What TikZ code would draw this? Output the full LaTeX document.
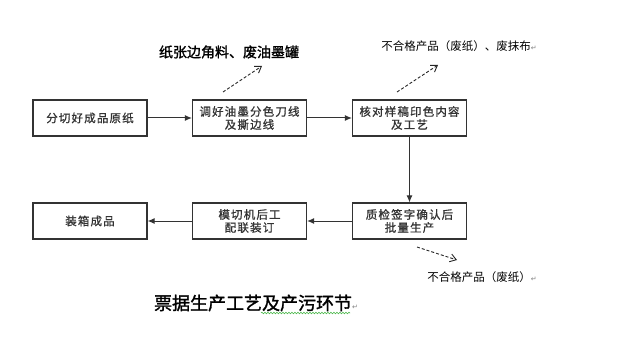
\documentclass[tikz,border=0pt]{standalone}
\usepackage{fontspec}
\newfontfamily\cjk{Noto Sans CJK SC}
\newfontfamily\cjkbox{Noto Sans CJK SC}[FakeBold=1,LetterSpace=10]
\newfontfamily\cjkb{Noto Sans CJK SC}[FakeBold=1.5]
\newfontfamily\symf{DejaVu Sans}
\usetikzlibrary{arrows.meta,decorations.pathmorphing}
\newcommand{\pmark}{{\color{gray}\symf\fontsize{7}{8}\selectfont ↵}}
\begin{document}
\begin{tikzpicture}[x=1pt,y=-1pt,
  procbox/.style={draw=black!80,line width=1.2pt,minimum width=114pt,minimum height=36pt,
    inner sep=1pt,align=center,font=\cjkbox\fontsize{11.5}{13}\selectfont,text=black!80},
  flow/.style={draw=black!80,line width=1pt,-{Latex[length=7pt,width=6pt]}},
  waste/.style={draw=black!85,line width=0.9pt,dash pattern=on 3pt off 2pt,-{Straight Barb[length=6pt,width=8pt]}},
  lbl/.style={inner sep=0pt,anchor=center}]
\useasboundingbox (0,0) rectangle (617,339);
\node[procbox] (b1) at (90,118) {分切好成品原纸};
\node[procbox] (b2) at (249.5,118) {调好油墨分色刀线\\及撕边线};
\node[procbox] (b3) at (409.5,118) {核对样稿印色内容\\及工艺};
\node[procbox] (b4) at (409.5,221) {质检签字确认后\\批量生产};
\node[procbox] (b5) at (249.5,221) {模切机后工\\配联装订};
\node[procbox] (b6) at (90,221) {装箱成品};
\draw[flow] (b1) -- (b2);
\draw[flow] (b2) -- (b3);
\draw[flow] (b3) -- (b4);
\draw[flow] (b4) -- (b5);
\draw[flow] (b5) -- (b6);
\coordinate (w1s) at (223,92); \coordinate (w1e) at (262,66);
\coordinate (w2s) at (397,92); \coordinate (w2e) at (438,65);
\coordinate (w3s) at (417,247); \coordinate (w3e) at (457,260);
\draw[waste] (w1s) -- (w1e);
\draw[waste] (w2s) -- (w2e);
\draw[waste] (w3s) -- (w3e);
\node[lbl] (t1) at (229,52) {\cjkb\fontsize{14}{16}\selectfont 纸张边角料、废油墨罐};
\node[lbl] (t2) at (459,46) {\cjk\fontsize{11.5}{13}\selectfont 不合格产品（废纸）、废抹布\pmark};
\node[lbl] (t3) at (482,277) {\cjk\fontsize{11.5}{13}\selectfont 不合格产品（废纸）\pmark};
\node[lbl] (title) at (256,303) {\cjkb\fontsize{18}{20}\selectfont 票据生产工艺及产污环节\pmark};
\draw[green!60!black!70,line width=0.6pt,decorate,decoration={snake,amplitude=0.8pt,segment length=3pt}] (261,313) -- (350,313);
\end{tikzpicture}
\end{document}
